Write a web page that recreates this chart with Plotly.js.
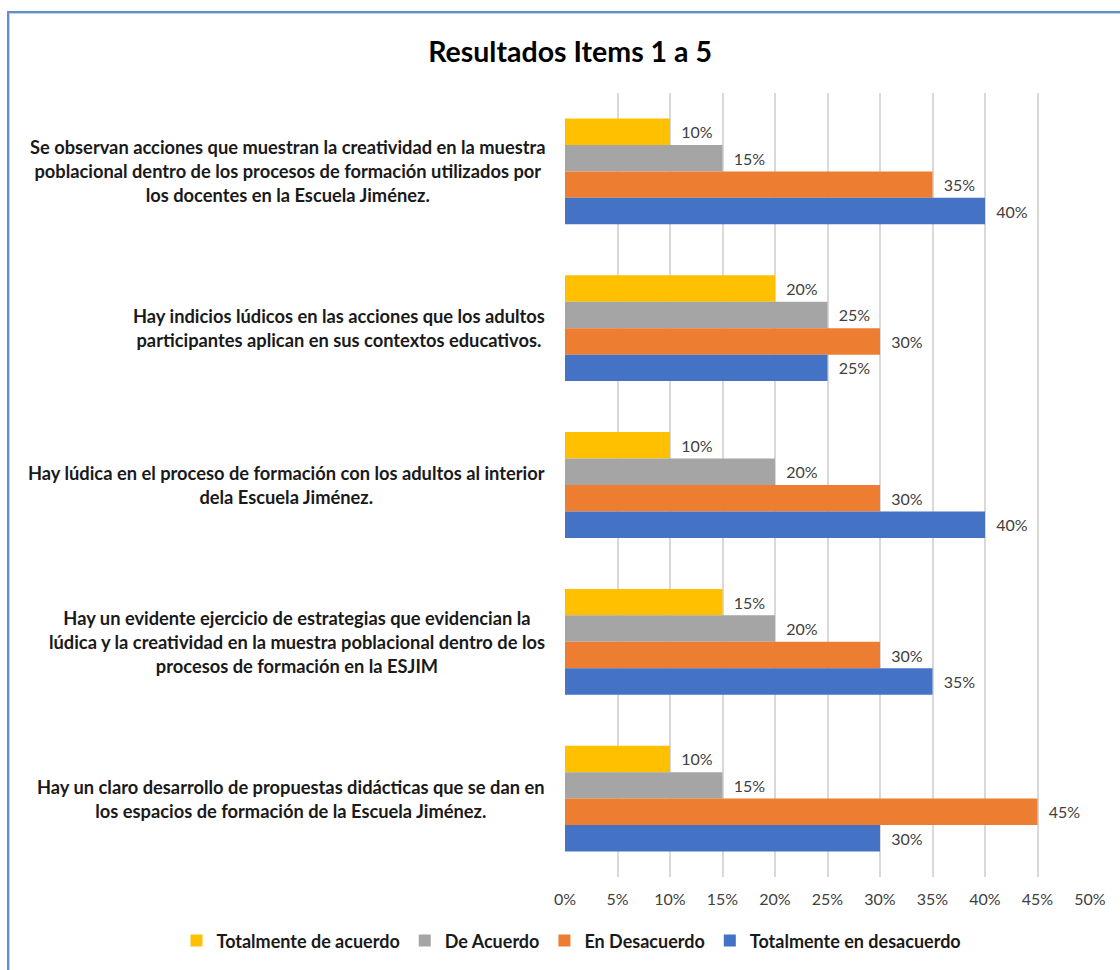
<!DOCTYPE html>
<html>
<head>
<meta charset="utf-8">
<script src="https://cdn.plot.ly/plotly-3.0.1.min.js"></script>
<style>
html,body{margin:0;padding:0;background:#fff;}
#chart{position:absolute;left:0;top:0;width:1120px;height:970px;}
#frame{position:absolute;left:7px;top:11px;width:1200px;height:1000px;border-left:2px solid #5f8fd3;border-top:2px solid #5f8fd3;box-shadow:inset 1px 1px 0 #d0d0d0;pointer-events:none;}
</style>
</head>
<body>
<div id="chart"></div>
<div id="frame"></div>
<script>
const categories = [
  "Se observan acciones que muestran la creatividad en la muestra<br>poblacional dentro de los procesos de formación utilizados por<br>los docentes en la Escuela Jiménez.",
  "Hay indicios lúdicos en las acciones que los adultos<br>participantes aplican en sus contextos educativos.",
  "Hay lúdica en el proceso de formación con los adultos al interior<br>dela Escuela Jiménez.",
  "Hay un evidente ejercicio de estrategias que evidencian la<br>lúdica y la creatividad en la muestra poblacional dentro de los<br>procesos de formación en la ESJIM",
  "Hay un claro desarrollo de propuestas didácticas que se dan en<br>los espacios de formación de la Escuela Jiménez."
];
const seriesNames = ["Totalmente de acuerdo", "De Acuerdo", "En Desacuerdo", "Totalmente en desacuerdo"];
const totalmenteDeAcuerdo = [0.10, 0.20, 0.10, 0.15, 0.10];
const deAcuerdo = [0.15, 0.25, 0.20, 0.20, 0.15];
const enDesacuerdo = [0.35, 0.30, 0.30, 0.30, 0.45];
const totalmenteEnDesacuerdo = [0.40, 0.25, 0.40, 0.35, 0.30];
const colors = ["#FFC000", "#A5A5A5", "#ED7D31", "#4472C4"];
const tickVals = [0, 0.05, 0.10, 0.15, 0.20, 0.25, 0.30, 0.35, 0.40, 0.45, 0.50];
const tickText = ["0%", "5%", "10%", "15%", "20%", "25%", "30%", "35%", "40%", "45%", "50%"];

const FONT = "Lato, 'Open Sans', sans-serif";
const allSeries = [totalmenteDeAcuerdo, deAcuerdo, enDesacuerdo, totalmenteEnDesacuerdo];
const ids = categories.map((c, i) => "c" + i);

const traces = allSeries.map((vals, i) => ({
  type: "bar",
  orientation: "h",
  name: seriesNames[i],
  x: vals,
  y: ids,
  marker: {color: colors[i]},
  texttemplate: "\u00a0\u00a0%{x:.0%}",
  textposition: "outside",
  textfont: {family: FONT, size: 16, color: "#404040"},
  cliponaxis: false,
  hoverinfo: "x+name"
}));

const annotations = categories.map((c, i) => ({
  xref: "paper", yref: "y",
  x: -0.034, y: ids[i],
  xanchor: "right", yanchor: "middle",
  align: "center",
  showarrow: false,
  text: "<b>" + c + "</b>",
  font: {family: FONT, size: 18.3, color: "#1a1a1a"}
}));

const layout = {
  width: 1120, height: 970,
  paper_bgcolor: "#ffffff", plot_bgcolor: "#ffffff",
  margin: {l: 565, r: 30, t: 93, b: 92},
  title: {
    text: "<b>Resultados Items 1 a 5</b>",
    font: {family: FONT, size: 28.5, color: "#000000"},
    xref: "container", x: 0.509, xanchor: "center",
    yref: "container", y: 0.946, yanchor: "middle"
  },
  barmode: "group",
  bargap: 0.325,
  bargroupgap: 0,
  xaxis: {
    range: [0, 0.5],
    tickvals: tickVals,
    ticktext: tickText,
    showgrid: true,
    gridcolor: "#d9d9d9",
    gridwidth: 2,
    zeroline: false,
    showline: false,
    ticks: "",
    ticklabelstandoff: 11,
    tickfont: {family: FONT, size: 16, color: "#404040"},
    fixedrange: true
  },
  yaxis: {
    autorange: "reversed",
    showticklabels: false,
    showgrid: false,
    zeroline: false,
    showline: false,
    ticks: "",
    fixedrange: true
  },
  showlegend: true,
  legend: {
    orientation: "h",
    xref: "paper", x: -0.74, xanchor: "left",
    yref: "paper", y: -0.08, yanchor: "middle",
    traceorder: "normal",
    font: {family: FONT, size: 18, color: "#1a1a1a", weight: "bold"},
    itemwidth: 30
  },
  annotations: annotations
};

Plotly.newPlot("chart", traces, layout, {displayModeBar: false, staticPlot: true});
</script>
</body>
</html>
